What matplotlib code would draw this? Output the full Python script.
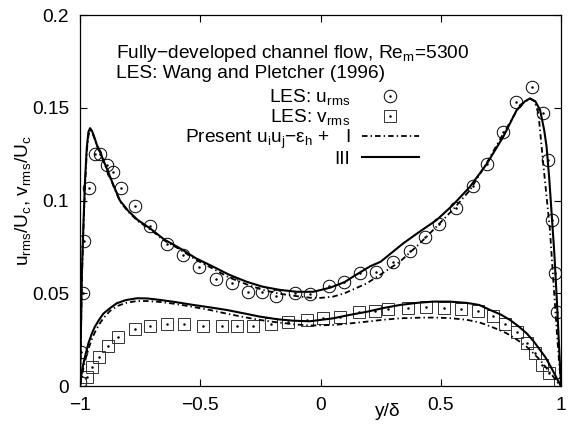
import matplotlib
matplotlib.use("Agg")
import matplotlib.pyplot as plt
from matplotlib.ticker import FuncFormatter

plt.rcParams['font.family'] = ['Liberation Sans', 'DejaVu Sans']
plt.rcParams['mathtext.default'] = 'regular'
plt.rcParams['lines.scale_dashes'] = False

# LES data (Wang and Pletcher 1996)
u_les_y = [-1.0, -0.997, -0.989, -0.983, -0.961, -0.938, -0.917, -0.886, -0.861,
           -0.830, -0.771, -0.709, -0.640, -0.572, -0.505, -0.435, -0.369, -0.300,
           -0.245, -0.185, -0.106, -0.044, 0.035, 0.099, 0.164, 0.231, 0.303, 0.372,
           0.434, 0.494, 0.563, 0.633, 0.691, 0.760, 0.813, 0.881, 0.924, 0.947,
           0.961, 0.975, 0.982]
u_les = [0.002, 0.0185, 0.050, 0.078, 0.107, 0.125, 0.125, 0.119, 0.1155,
         0.1066, 0.097, 0.0863, 0.0765, 0.0704, 0.064, 0.0575, 0.0557, 0.0508,
         0.0505, 0.0487, 0.050, 0.0494, 0.0539, 0.0562, 0.0607, 0.0616, 0.067, 0.0727,
         0.0805, 0.0873, 0.096, 0.1078, 0.1195, 0.137, 0.153, 0.161, 0.147, 0.122,
         0.0895, 0.0607, 0.0397]

v_les_y = [-1.0, -0.972, -0.949, -0.920, -0.885, -0.841, -0.771, -0.709, -0.637,
           -0.566, -0.487, -0.411, -0.346, -0.279, -0.207, -0.134, -0.058, 0.012,
           0.081, 0.160, 0.227, 0.282, 0.365, 0.439, 0.512, 0.584, 0.653, 0.717,
           0.769, 0.817, 0.858, 0.892, 0.920, 0.951, 0.997]
v_les = [0.0018, 0.005, 0.0104, 0.0158, 0.0216, 0.0266, 0.0306, 0.0325, 0.0332,
         0.0332, 0.0325, 0.0325, 0.0325, 0.0325, 0.0334, 0.0347, 0.0356, 0.0365,
         0.0374, 0.0397, 0.0406, 0.0413, 0.0422, 0.0424, 0.0422, 0.0415, 0.0405, 0.038,
         0.0336, 0.0293, 0.0232, 0.0178, 0.0113, 0.0068, 0.0013]

# Present model, case III (solid)
u3_y = [-1.0, -0.996, -0.992, -0.986, -0.979, -0.972, -0.965, -0.958, -0.95, -0.94,
        -0.93, -0.917, -0.903, -0.88, -0.86, -0.834, -0.8, -0.76, -0.709, -0.65,
        -0.584, -0.52, -0.446, -0.38, -0.307, -0.24, -0.168, -0.099, -0.03, 0.04,
        0.1, 0.136, 0.206, 0.25, 0.344, 0.41, 0.483, 0.55, 0.622, 0.69, 0.76,
        0.816, 0.85, 0.871, 0.893, 0.913, 0.93, 0.94, 0.951, 0.961, 0.972, 0.982,
        0.991, 1.0]
u3 = [0.0, 0.03, 0.062, 0.086, 0.111, 0.128, 0.137, 0.139, 0.1375, 0.134,
      0.130, 0.1263, 0.1218, 0.1145, 0.108, 0.100, 0.0945, 0.0895, 0.085, 0.079,
      0.0742, 0.069, 0.0643, 0.060, 0.0562, 0.0535, 0.0518, 0.0508, 0.0508, 0.0530,
      0.0560, 0.059, 0.0645, 0.067, 0.0769, 0.083, 0.0895, 0.0975, 0.1075, 0.1195, 0.1344,
      0.1488, 0.1535, 0.155, 0.1535, 0.1488, 0.138, 0.129, 0.112, 0.093, 0.072, 0.048,
      0.024, 0.0]

v3_y = [-1.0, -0.993, -0.986, -0.975, -0.965, -0.95, -0.938, -0.92, -0.903, -0.875,
        -0.847, -0.81, -0.764, -0.72, -0.667, -0.6, -0.529, -0.46, -0.39, -0.32,
        -0.252, -0.18, -0.113, -0.044, 0.053, 0.12, 0.192, 0.26, 0.331, 0.4,
        0.469, 0.538, 0.608, 0.66, 0.705, 0.75, 0.788, 0.825, 0.857, 0.885,
        0.913, 0.935, 0.954, 0.972, 0.989, 1.0]
v3 = [0.0, 0.007, 0.012, 0.018, 0.023, 0.0285, 0.032, 0.0358, 0.039, 0.042,
      0.0446, 0.0463, 0.0473, 0.0472, 0.0464, 0.0452, 0.0437, 0.0424, 0.041, 0.0392,
      0.0374, 0.036, 0.0352, 0.0349, 0.0365, 0.0383, 0.040, 0.042, 0.0437, 0.0448,
      0.0455, 0.0455, 0.0448, 0.0437, 0.041, 0.0385, 0.0356, 0.032, 0.0284, 0.0243,
      0.0194, 0.0155, 0.0112, 0.0068, 0.0025, 0.0]

# Present model, case I (dash-dot)
u1_y = [-1.0, -0.996, -0.992, -0.986, -0.979, -0.972, -0.965, -0.958, -0.95, -0.94,
        -0.93, -0.917, -0.903, -0.88, -0.86, -0.834, -0.8, -0.76, -0.709, -0.65,
        -0.584, -0.52, -0.446, -0.38, -0.307, -0.24, -0.168, -0.085, -0.044, 0.0,
        0.053, 0.1, 0.192, 0.26, 0.33, 0.41, 0.483, 0.55, 0.622, 0.69, 0.76,
        0.83, 0.871, 0.89, 0.906, 0.926, 0.94, 0.954, 0.968, 0.985, 1.0]
u1 = [0.0, 0.028, 0.058, 0.083, 0.108, 0.126, 0.135, 0.138, 0.137, 0.1335,
      0.1295, 0.1258, 0.1213, 0.114, 0.1075, 0.0995, 0.094, 0.089, 0.0845, 0.0785,
      0.0736, 0.0682, 0.0632, 0.0585, 0.0548, 0.0518, 0.0497, 0.0482, 0.0476, 0.0475,
      0.0482, 0.050, 0.0553, 0.061, 0.067, 0.0765, 0.086, 0.095, 0.1057, 0.120, 0.136,
      0.1515, 0.155, 0.1535, 0.147, 0.120, 0.102, 0.084, 0.057, 0.025, 0.0]

v1_y = [-1.0, -0.993, -0.986, -0.975, -0.965, -0.95, -0.938, -0.92, -0.903, -0.875,
        -0.847, -0.81, -0.764, -0.72, -0.667, -0.6, -0.529, -0.46, -0.39, -0.32,
        -0.252, -0.18, -0.113, -0.044, 0.053, 0.12, 0.192, 0.26, 0.331, 0.4,
        0.469, 0.538, 0.608, 0.66, 0.691, 0.74, 0.774, 0.82, 0.857, 0.885,
        0.913, 0.94, 0.968, 0.985, 1.0]
v1 = [0.0, 0.005, 0.0095, 0.0155, 0.020, 0.0255, 0.029, 0.0333, 0.0365, 0.0405,
      0.043, 0.0448, 0.0458, 0.0458, 0.0453, 0.0442, 0.0426, 0.041, 0.039, 0.0372,
      0.0356, 0.0343, 0.0333, 0.0326, 0.0329, 0.0337, 0.0347, 0.0357, 0.0365, 0.0368,
      0.0369, 0.0366, 0.0357, 0.0343, 0.0329, 0.0304, 0.0284, 0.0247, 0.0212, 0.0177,
      0.014, 0.0096, 0.005, 0.002, 0.0]

x_ticks = [-1, -0.5, 0, 0.5, 1]
y_ticks = [0, 0.05, 0.1, 0.15, 0.2]

FS = 13.8
DASHDOT = (0, (4.0, 2.2, 1.0, 2.2))

fig = plt.figure(figsize=(5.78, 4.24), dpi=100)
ax = fig.add_axes([0.1384, 0.0896, 0.8322, 0.875])

# LES symbols: open marker with a small dot in the centre
c1, = ax.plot(u_les_y, u_les, ls='none', marker='o', ms=9.0, mfc='none',
              mec='black', mew=0.7)
c2, = ax.plot(u_les_y, u_les, ls='none', marker='.', ms=1.6, color='black')
s1, = ax.plot(v_les_y, v_les, ls='none', marker='s', ms=8.0, mfc='none',
              mec='#333333', mew=0.7)
s2, = ax.plot(v_les_y, v_les, ls='none', marker='.', ms=1.6, color='black')

l1, = ax.plot(u1_y, u1, color='black', lw=1.3, ls=DASHDOT)
ax.plot(v1_y, v1, color='black', lw=1.3, ls=DASHDOT)
l3, = ax.plot(u3_y, u3, color='black', lw=1.5)
ax.plot(v3_y, v3, color='black', lw=1.5)

ax.set_xlim(-1, 1)
ax.set_ylim(0, 0.2)
ax.set_xticks(x_ticks)
ax.set_yticks(y_ticks)
fmt = FuncFormatter(lambda v, p: f'{v:g}'.replace('-', '\u2212'))
ax.xaxis.set_major_formatter(fmt)
ax.yaxis.set_major_formatter(fmt)
ax.tick_params(direction='in', length=5, width=0.8, top=True, right=True,
               labelsize=FS, pad=8)
for sp in ax.spines.values():
    sp.set_linewidth(0.9)

ax.set_ylabel('u$_{rms}$/U$_c$, v$_{rms}$/U$_c$', fontsize=FS)
ax.yaxis.set_label_coords(-0.098, 0.5)
ax.text(0.64, -0.068, 'y/\u03b4', transform=ax.transAxes, ha='center',
        va='center', fontsize=FS)

ax.text(0.075, 0.884, 'Fully\u2212developed channel flow, Re$_m$=5300',
        transform=ax.transAxes, fontsize=FS, va='baseline')
ax.text(0.075, 0.830, 'LES: Wang and Pletcher (1996)',
        transform=ax.transAxes, fontsize=FS, va='baseline')

leg = ax.legend([(c1, c2), (s1, s2), l1, l3],
                ['LES: u$_{rms}$', 'LES: v$_{rms}$',
                 'Present u$_i$u$_j$\u2212\u03b5$_h$ +   I', 'III'],
                loc='upper right', bbox_to_anchor=(0.705, 0.805),
                frameon=False, markerfirst=False, fontsize=FS,
                handlelength=3.0, handletextpad=0.6, labelspacing=0.0,
                borderpad=0, borderaxespad=0, numpoints=1)

fig.savefig('out.png', dpi=100)
